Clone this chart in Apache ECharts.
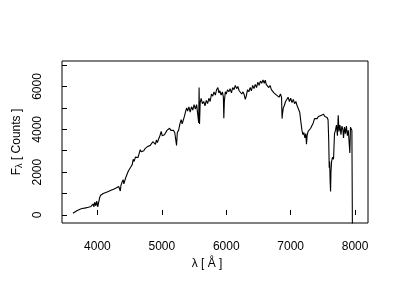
<!DOCTYPE html>
<html><head><meta charset="utf-8">
<script src="https://cdn.jsdelivr.net/npm/echarts@6/dist/echarts.min.js"></script>
<style>html,body{margin:0;padding:0;background:#fff}#c{width:400px;height:300px}</style>
</head><body><div id="c"></div>
<script>
var wavelength = [3620,3650,3680,3700,3720,3740,3760,3780,3800,3830,3860,3880,3900,3920,3935,3945,3960,3975,3990,4005,4020,4035,4050,4070,4090,4110,4130,4150,4170,4190,4210,4230,4250,4270,4290,4310,4330,4345,4355,4365,4385,4400,4410,4420,4440,4460,4480,4500,4520,4540,4555,4570,4590,4610,4630,4650,4665,4680,4700,4720,4740,4760,4780,4800,4820,4840,4860,4880,4900,4915,4930,4950,4970,4990,5005,5020,5040,5060,5080,5100,5120,5140,5160,5180,5200,5215,5228,5240,5260,5280,5300,5315,5330,5350,5370,5385,5400,5420,5440,5460,5480,5500,5520,5540,5560,5572,5578,5585,5595,5610,5630,5650,5670,5690,5710,5730,5750,5770,5790,5810,5830,5850,5870,5885,5900,5920,5940,5955,5962,5970,5985,6000,6020,6040,6060,6080,6100,6120,6140,6160,6180,6200,6220,6240,6260,6280,6295,6310,6330,6350,6370,6390,6410,6430,6450,6470,6490,6510,6530,6550,6570,6590,6605,6620,6640,6660,6680,6700,6720,6740,6760,6780,6800,6820,6840,6858,6866,6872,6885,6900,6920,6940,6960,6980,7000,7020,7040,7060,7080,7100,7120,7140,7160,7175,7190,7205,7220,7235,7245,7255,7270,7290,7310,7330,7350,7370,7390,7410,7430,7450,7470,7490,7510,7530,7550,7565,7580,7590,7598,7605,7612,7619,7625,7635,7650,7665,7680,7695,7710,7725,7738,7750,7765,7780,7795,7810,7820,7835,7850,7865,7880,7895,7910,7918,7928,7940,7950,7958];
var flux = [80,150,200,170,260,240,300,280,320,300,360,330,400,360,520,380,600,420,650,380,450,820,920,960,1000,980,1050,1030,1100,1080,1150,1120,1200,1180,1260,1230,1330,1420,1120,1380,1550,1650,1450,1500,1750,1900,2050,2000,2250,2350,2600,2500,2700,2750,2680,2900,3050,2950,2900,3000,3100,3050,3200,3180,3250,3300,3420,3380,3300,3500,3380,3550,3700,3900,3700,3650,3750,3800,3950,3900,4050,3950,3900,3950,3850,3800,3250,3850,3950,4250,4450,4250,4400,4600,4850,5000,4850,5050,4800,5050,4900,5150,4950,5150,5100,4300,5950,4250,5250,5450,5200,5300,5100,5350,5200,5450,5300,5650,5550,5750,5600,5850,5950,5700,5800,5600,5750,5500,4520,5300,5750,5650,5850,5750,5900,5700,5950,5850,6050,5900,6000,5800,5850,5650,5750,5600,5400,5550,5850,5750,5950,5800,6050,5900,6100,5950,6200,6050,6250,6150,6300,6150,6300,6100,6150,5950,6050,5850,5900,5700,5750,5600,5650,5500,5650,5500,4500,4700,5000,5100,5300,5350,5500,5300,5450,5250,5400,5200,5300,5100,5050,4800,4300,3950,3750,3850,3600,3800,3300,3700,3900,3850,4050,4100,4300,4500,4550,4500,4600,4550,4650,4600,4700,4600,4650,4550,4450,3500,2200,2500,1600,1100,2000,2500,2700,2600,3800,3950,4200,3700,4650,3900,4200,3750,4150,4000,3600,4100,3800,4150,3700,3950,3900,2900,4100,4050,3950,-600];
var xTicks = [4000,5000,6000,7000,8000];
var yTicks = [0,1000,2000,3000,4000,5000,6000,7000];
var yLabels = [0,2000,4000,6000];

var data = wavelength.map(function(w,i){return [w, flux[i]];});
var font = 'Liberation Sans, Arial, sans-serif';
var fmt = function(v){return String(v);};
var chart = echarts.init(document.getElementById('c'), null, {renderer:'canvas'});
chart.setOption({
  animation:false,
  backgroundColor:'#fff',
  grid:{left:62, top:61, right:32, bottom:77, show:true, borderColor:'#000', borderWidth:1, backgroundColor:'transparent'},
  xAxis:{type:'value', min:3450, max:8200,
    axisLine:{show:false}, splitLine:{show:false},
    axisTick:{show:true, inside:true, length:5, lineStyle:{color:'#000'}, customValues:xTicks},
    axisLabel:{color:'#000', fontSize:12, fontFamily:font, margin:18, customValues:xTicks, formatter:fmt},
    name:'λ [ Å ]', nameLocation:'middle', nameGap:35,
    nameTextStyle:{color:'#000', fontSize:12, fontFamily:font, padding:[0,16,0,0]}
  },
  yAxis:{type:'value', min:-375, max:7190,
    axisLine:{show:false}, splitLine:{show:false},
    axisTick:{show:true, inside:true, length:5, lineStyle:{color:'#000'}, customValues:yTicks},
    axisLabel:{color:'#000', fontSize:12, fontFamily:font, margin:18, rotate:90, customValues:yLabels, formatter:fmt},
    name:'F{s|λ} [ Counts ]', nameLocation:'middle', nameGap:38, nameRotate:90,
    nameTextStyle:{color:'#000', fontSize:12, fontFamily:font, rich:{s:{fontSize:9, fontFamily:font, color:'#000', verticalAlign:'bottom', padding:[6,0,0,0]}}}
  },
  series:[{type:'line', data:data, showSymbol:false, symbol:'none', clip:true,
    lineStyle:{color:'#000', width:1.1}}]
});
</script></body></html>
